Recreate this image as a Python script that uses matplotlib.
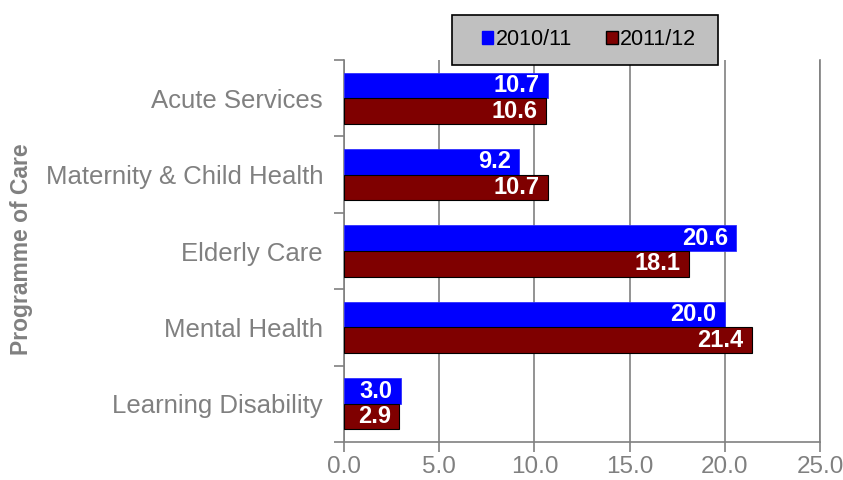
import numpy as np
import matplotlib.pyplot as plt
from matplotlib.patches import Patch, Rectangle

plt.rcParams['font.family'] = ['Liberation Sans', 'DejaVu Sans']

# data
CATEGORIES = ['Acute Services', 'Maternity & Child Health', 'Elderly Care',
              'Mental Health', 'Learning Disability']
SERIES = ['2010/11', '2011/12']
VALS_2010 = [10.7, 9.2, 20.6, 20.0, 3.0]
VALS_2011 = [10.6, 10.7, 18.1, 21.4, 2.9]
XTICKS = [0.0, 5.0, 10.0, 15.0, 20.0, 25.0]

GREY = '#808080'
BLUE = '#0000ff'
DRED = '#7f0000'

W, H = 843, 480
fig = plt.figure(figsize=(W / 100, H / 100), dpi=100)
ax = fig.add_axes([0.408, 0.079, 0.565, 0.796])

pos = np.arange(len(CATEGORIES))
h = 0.335
b1 = ax.barh(pos - h / 2, VALS_2010, height=h, color=BLUE,
             edgecolor='#3030ff', linewidth=0.6, zorder=3)
b2 = ax.barh(pos + h / 2, VALS_2011, height=h, color=DRED,
             edgecolor='black', linewidth=0.8, zorder=3)

for bars, vals in ((b1, VALS_2010), (b2, VALS_2011)):
    for bar, v in zip(bars, vals):
        ax.annotate('%.1f' % v, (bar.get_width(), bar.get_y() + bar.get_height() / 2),
                    xytext=(-6, 0), textcoords='offset points',
                    ha='right', va='center', color='white',
                    fontsize=17, fontweight='bold', zorder=4)

ax.set_xlim(0, 25)
ax.set_ylim(len(CATEGORIES) - 0.5, -0.5)
ax.set_xticks(XTICKS)
ax.set_xticklabels(['%.1f' % t for t in XTICKS], color=GREY, fontsize=17.5)
ax.set_yticks(pos)
ax.set_yticklabels(CATEGORIES, color=GREY, fontsize=18.5)
ax.set_yticks(np.arange(-0.5, len(CATEGORIES)), minor=True)
ax.tick_params(axis='y', which='major', length=0, pad=15)
ax.tick_params(axis='y', which='minor', length=7, color=GREY, width=1.2)
ax.tick_params(axis='x', length=7, color=GREY, width=1.2, pad=3)

ax.grid(axis='x', color=GREY, linewidth=1.2, zorder=0)
ax.spines['top'].set_visible(False)
for s in ['left', 'bottom', 'right']:
    ax.spines[s].set_color(GREY)
    ax.spines[s].set_linewidth(1.2)

fig.text(22 / W, 0.48, 'Programme of Care', rotation=90, color=GREY,
         fontsize=16.5, fontweight='bold', ha='center', va='center')

# legend box drawn by hand, legend itself without frame
fig.patches.append(Rectangle((452 / W, 1 - 65 / H), 266 / W, 50 / H,
                             transform=fig.transFigure, facecolor='#c0c0c0',
                             edgecolor='black', linewidth=1.2, zorder=5))
handles = [Patch(facecolor=BLUE, edgecolor=BLUE),
           Patch(facecolor=DRED, edgecolor='black')]
leg = fig.legend(handles, SERIES, loc='center', bbox_to_anchor=(589 / W, 0.917),
                 ncol=2, fontsize=15.5, frameon=False,
                 handlelength=0.55, handleheight=0.55, handletextpad=0.1,
                 columnspacing=1.6, borderpad=0, borderaxespad=0)
leg.set_zorder(6)

fig.savefig('out.png', dpi=100)
